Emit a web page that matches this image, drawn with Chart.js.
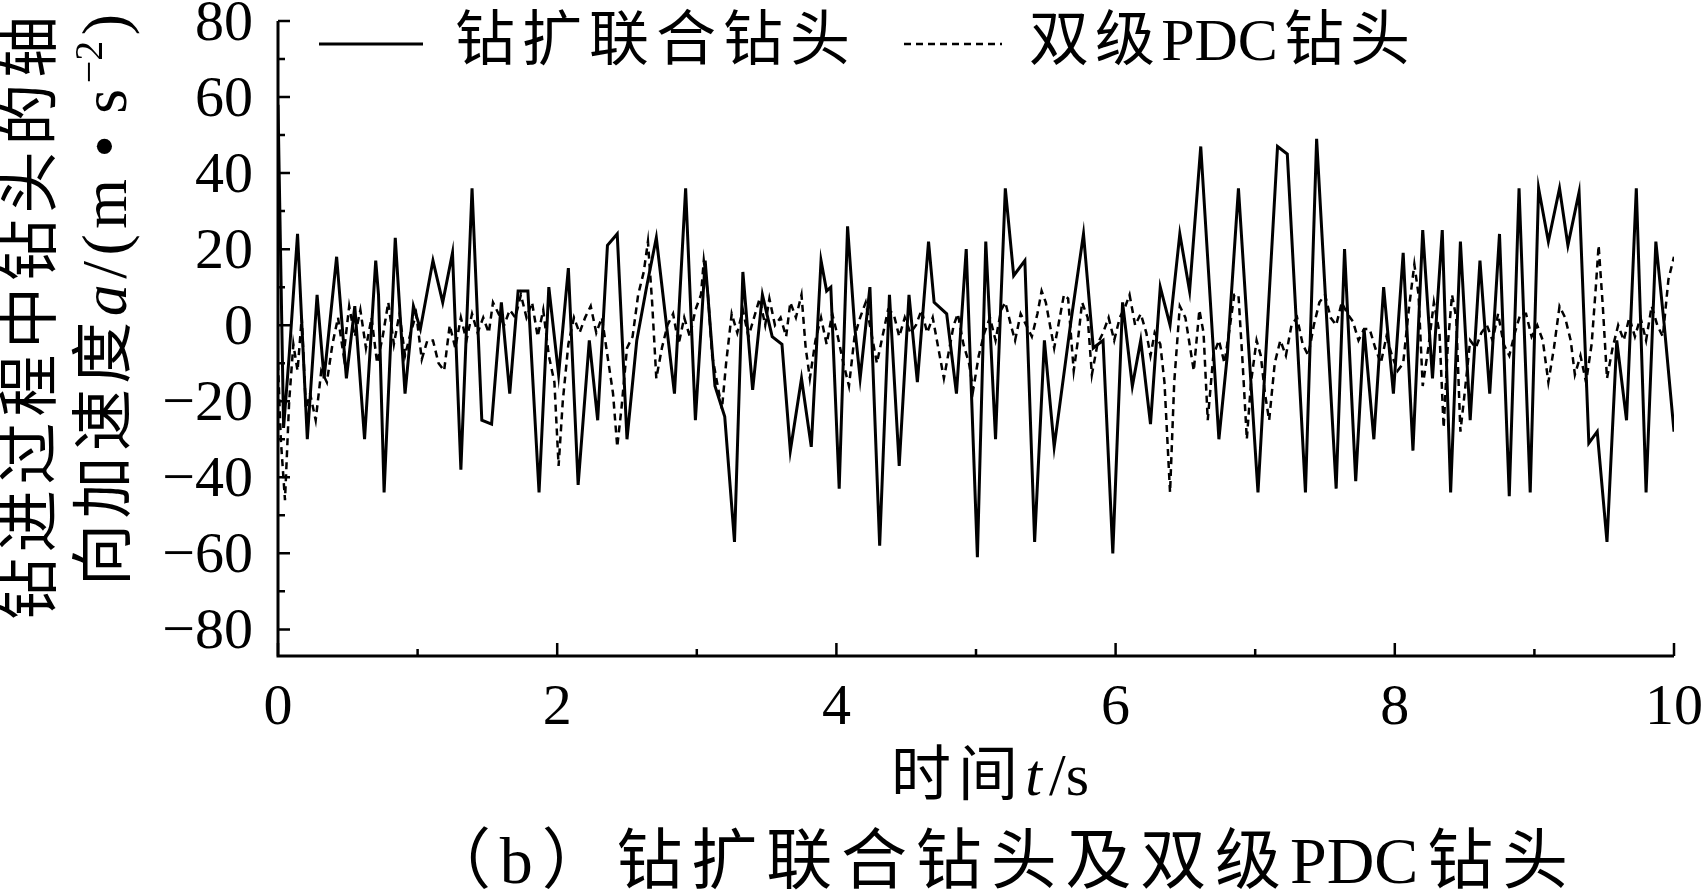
<!DOCTYPE html>
<html>
<head>
<meta charset="utf-8">
<script src="https://cdn.jsdelivr.net/npm/chart.js@4.4.1/dist/chart.umd.min.js"></script>
<style>
  html, body { margin: 0; padding: 0; background: #fff; }
  canvas { display: block; }
</style>
</head>
<body>
<canvas id="chart" width="1708" height="896"></canvas>
<script>
// series names
const seriesNames = ['钻扩联合钻头', '双级PDC钻头'];

// 钻扩联合钻头 (solid), time in s / acceleration in m/s^2
const tSolid = [
  0.00, 0.04, 0.08, 0.14, 0.21, 0.28, 0.33, 0.42, 0.49, 0.55,
  0.62, 0.70, 0.72, 0.76, 0.84, 0.91, 0.97, 1.02, 1.11, 1.18,
  1.25, 1.31, 1.39, 1.46, 1.53, 1.60, 1.66, 1.72, 1.79, 1.87,
  1.94, 2.01, 2.08, 2.15, 2.23, 2.29, 2.36, 2.43, 2.50, 2.57,
  2.64, 2.71, 2.84, 2.92, 2.99, 3.06, 3.13, 3.20, 3.27, 3.33,
  3.40, 3.47, 3.54, 3.61, 3.67, 3.75, 3.82, 3.89, 3.93, 3.96,
  4.02, 4.08, 4.13, 4.17, 4.24, 4.31, 4.38, 4.45, 4.52, 4.58,
  4.66, 4.70, 4.79, 4.86, 4.93, 5.01, 5.07, 5.14, 5.21, 5.27,
  5.35, 5.42, 5.49, 5.56, 5.68, 5.77, 5.84, 5.91, 5.98, 6.05,
  6.12, 6.18, 6.25, 6.32, 6.39, 6.46, 6.53, 6.61, 6.74, 6.80,
  6.88, 7.02, 7.16, 7.23, 7.36, 7.44, 7.58, 7.64, 7.72, 7.78,
  7.85, 7.92, 7.99, 8.06, 8.13, 8.20, 8.27, 8.34, 8.40, 8.47,
  8.54, 8.61, 8.68, 8.75, 8.82, 8.89, 8.97, 9.03, 9.10, 9.18,
  9.24, 9.32, 9.39, 9.45, 9.52, 9.59, 9.66, 9.73, 9.80, 9.87,
  9.93, 10.00
];
const aSolid = [
  58, -27, -8, 24, -30, 8, -14, 18, -14, 5,
  -30, 17, 8, -44, 23, -18, 5, -1, 17, 6,
  19, -38, 36, -25, -26, 6, -18, 9, 9, -44,
  10, -13, 15, -42, -4, -25, 21, 24, -30, -4,
  10, 23, -18, 36, -25, 17, -16, -24, -57, 14,
  -17, 8, -3, -5, -33, -14, -32, 17, 9, 10,
  -43, 26, 0, -14, 10, -58, 8, -37, 8, -15,
  22, 6, 3, -18, 20, -61, 22, -30, 36, 13,
  17, -57, -4, -32, 1, 24, -6, -4, -60, 6,
  -16, -4, -26, 10, 0, 24, 9, 47, -30, -8,
  36, -44, 47, 45, -44, 49, -43, 20, -41, -1,
  -30, 10, -18, 19, -33, 25, -14, 25, -44, 22,
  -25, 17, -18, 24, -45, 36, -44, 36, 22, 36,
  21, 35, -31, -28, -57, -4, -25, 36, -44, 22,
  0, -28
];

// 双级PDC钻头 (dashed)
const tPdc = [
  0.00, 0.02, 0.05, 0.08, 0.11, 0.14, 0.17, 0.20, 0.23, 0.27,
  0.31, 0.35, 0.39, 0.43, 0.47, 0.51, 0.55, 0.59, 0.63, 0.67,
  0.71, 0.75, 0.79, 0.83, 0.87, 0.91, 0.95, 0.99, 1.03, 1.07,
  1.11, 1.15, 1.19, 1.23, 1.27, 1.31, 1.35, 1.39, 1.43, 1.47,
  1.51, 1.54, 1.58, 1.62, 1.66, 1.70, 1.74, 1.78, 1.82, 1.86,
  1.90, 1.94, 1.98, 2.01, 2.04, 2.08, 2.12, 2.16, 2.20, 2.24,
  2.28, 2.32, 2.36, 2.40, 2.43, 2.46, 2.50, 2.54, 2.58, 2.62,
  2.65, 2.68, 2.71, 2.75, 2.79, 2.83, 2.87, 2.91, 2.95, 2.99,
  3.03, 3.05, 3.08, 3.11, 3.14, 3.18, 3.21, 3.25, 3.29, 3.33,
  3.37, 3.41, 3.45, 3.49, 3.52, 3.56, 3.60, 3.64, 3.67, 3.71,
  3.75, 3.78, 3.81, 3.85, 3.89, 3.93, 3.97, 4.01, 4.05, 4.09,
  4.13, 4.17, 4.21, 4.25, 4.29, 4.33, 4.37, 4.41, 4.45, 4.49,
  4.53, 4.57, 4.61, 4.65, 4.69, 4.73, 4.77, 4.80, 4.84, 4.87,
  4.91, 4.95, 4.98, 5.02, 5.06, 5.10, 5.14, 5.18, 5.21, 5.25,
  5.28, 5.32, 5.36, 5.40, 5.44, 5.47, 5.50, 5.53, 5.56, 5.60,
  5.63, 5.66, 5.70, 5.73, 5.76, 5.80, 5.83, 5.87, 5.91, 5.95,
  5.99, 6.03, 6.07, 6.10, 6.14, 6.18, 6.22, 6.25, 6.28, 6.32,
  6.35, 6.39, 6.42, 6.46, 6.50, 6.53, 6.56, 6.60, 6.63, 6.66,
  6.70, 6.74, 6.78, 6.82, 6.85, 6.88, 6.91, 6.94, 6.97, 7.01,
  7.04, 7.07, 7.10, 7.14, 7.18, 7.22, 7.26, 7.30, 7.34, 7.38,
  7.42, 7.46, 7.50, 7.54, 7.58, 7.62, 7.66, 7.70, 7.74, 7.78,
  7.82, 7.86, 7.90, 7.94, 7.98, 8.02, 8.06, 8.10, 8.14, 8.17,
  8.20, 8.24, 8.28, 8.32, 8.35, 8.38, 8.41, 8.44, 8.47, 8.50,
  8.54, 8.58, 8.62, 8.66, 8.70, 8.74, 8.78, 8.82, 8.86, 8.90,
  8.94, 8.98, 9.02, 9.06, 9.10, 9.14, 9.18, 9.22, 9.26, 9.29,
  9.33, 9.37, 9.41, 9.44, 9.46, 9.49, 9.52, 9.56, 9.60, 9.64,
  9.68, 9.72, 9.76, 9.80, 9.84, 9.88, 9.92, 9.96, 10.00
];
const aPdc = [
  -10, -30, -46, -20, -5, -12, 2, -22, -18, -25,
  -12, -15, -5, 2, -8, 5, -3, 4, -6, 2,
  -10, -3, 6, -5, 3, -8, -2, 3, -9, -4,
  -4, -10, -12, 0, -6, 2, -4, 3, -2, 2,
  -2, 6, 3, 0, 4, 2, 8, 2, 6, -3,
  4, -8, -15, -37, -20, -5, 2, -2, 2, 5,
  -2, 2, -8, -18, -32, -22, -6, -3, 8, 14,
  22, 6, -14, -6, 0, 3, -5, 2, -3, 4,
  8, 17, 8, -8, -14, -22, -10, 3, -2, 4,
  -3, 2, 7, 0, 7, 0, 2, -3, 6, 2,
  8, -6, -14, -4, 2, -5, 3, -3, -10, -16,
  -3, 2, 6, -2, -10, -3, 4, 3, -3, 2,
  -2, 0, 4, -2, 2, -6, -14, -8, 0, 3,
  -5, -10, -17, -8, -2, 2, -4, 4, 6, 0,
  -4, 3, 0, -3, 3, 9, 6, 0, -6, 2,
  8, 7, -12, -4, 6, 2, -13, -5, -2, 2,
  -4, 2, 5, 8, 0, 3, -2, -8, -2, -5,
  -15, -44, -15, 5, 2, -5, -12, 4, -2, -25,
  -8, -4, -10, 0, 8, 8, -10, -30, -15, -4,
  -8, -18, -25, -10, -4, -8, 0, 2, -5, -8,
  0, 6, 8, 2, 0, 6, 3, 1, -4, -1,
  -1, -6, -10, -3, -8, -12, -10, 4, 16, 8,
  -16, -6, 6, -2, -27, -5, 8, 2, -28, -18,
  -4, -6, -2, 0, -4, 3, -5, -8, -2, 3,
  3, -3, 0, -4, -15, -6, 5, 2, -4, -13,
  -8, -15, -5, 10, 21, 5, -14, -6, 0, -4,
  2, -3, 2, -4, 5, 0, -3, 12, 18
];

// axis ticks
const xMajorTicks = [0, 2, 4, 6, 8, 10];
const xMinorTicks = [1, 3, 5, 7, 9];
const yMajorTicks = [80, 60, 40, 20, 0, -20, -40, -60, -80];
const yMinorTicks = [70, 50, 30, 10, -10, -30, -50, -70];

const numFont = "58px 'Liberation Serif', 'Noto Sans CJK SC'";
const mixFont = (px) => px + "px 'Liberation Serif', 'Noto Sans CJK SC'";
const italicFont = (px) => "italic " + px + "px 'Liberation Serif'";

function fmt(v) {
    return v < 0 ? '\u2212' + Math.abs(v) : String(v);
}

// draws text parts spread out so they fill x0..x1;
// parts with tight: true get no extra space between their own letters
function drawFitted(ctx, parts, x0, x1, y) {
    const chars = [];
    parts.forEach(p => {
        const list = [...p.text];
        list.forEach((ch, i) => {
            chars.push({ ch, font: p.font, dy: p.dy || 0, gap: !p.tight || i === list.length - 1 });
        });
    });
    chars[chars.length - 1].gap = false;
    let w = 0, n = 0;
    chars.forEach(c => {
        ctx.font = c.font;
        c.w = ctx.measureText(c.ch).width;
        w += c.w;
        if (c.gap) n++;
    });
    const gap = n > 0 ? (x1 - x0 - w) / n : 0;
    let x = x0;
    ctx.textAlign = 'left';
    ctx.textBaseline = 'middle';
    chars.forEach(c => {
        ctx.font = c.font;
        ctx.fillText(c.ch, x, y + c.dy);
        x += c.w + (c.gap ? gap : 0);
    });
}

const decor = {
    id: 'decor',
    afterDraw(chart) {
        const { ctx, chartArea: a, scales: { x, y } } = chart;
        const ds = chart.data.datasets;
        ctx.save();
        ctx.strokeStyle = '#000';
        ctx.fillStyle = '#000';

        // axes
        ctx.lineWidth = 3;
        ctx.beginPath();
        ctx.moveTo(a.left, a.top);
        ctx.lineTo(a.left, a.bottom);
        ctx.lineTo(a.right, a.bottom);
        ctx.stroke();

        // inward ticks
        ctx.lineWidth = 2.5;
        ctx.beginPath();
        yMajorTicks.forEach(v => {
            const py = y.getPixelForValue(v);
            ctx.moveTo(a.left, py); ctx.lineTo(a.left + 12, py);
        });
        yMinorTicks.forEach(v => {
            const py = y.getPixelForValue(v);
            ctx.moveTo(a.left, py); ctx.lineTo(a.left + 7, py);
        });
        xMajorTicks.forEach(v => {
            const px = x.getPixelForValue(v);
            ctx.moveTo(px, a.bottom); ctx.lineTo(px, a.bottom - 13);
        });
        xMinorTicks.forEach(v => {
            const px = x.getPixelForValue(v);
            ctx.moveTo(px, a.bottom); ctx.lineTo(px, a.bottom - 7);
        });
        ctx.stroke();

        // tick labels
        ctx.font = numFont;
        ctx.textBaseline = 'alphabetic';
        ctx.textAlign = 'right';
        yMajorTicks.forEach(v => {
            ctx.fillText(fmt(v), a.left - 25, y.getPixelForValue(v) + 19);
        });
        ctx.textAlign = 'center';
        xMajorTicks.forEach(v => {
            ctx.fillText(fmt(v), x.getPixelForValue(v), a.bottom + 68);
        });

        // legend
        const ly = 44;
        ctx.lineWidth = ds[0].borderWidth;
        ctx.setLineDash([]);
        ctx.beginPath(); ctx.moveTo(319, ly); ctx.lineTo(423, ly); ctx.stroke();
        drawFitted(ctx, [{ text: ds[0].label, font: mixFont(60) }], 455, 850, ly);
        ctx.lineWidth = ds[1].borderWidth;
        ctx.setLineDash(ds[1].borderDash);
        ctx.beginPath(); ctx.moveTo(904, ly); ctx.lineTo(1002, ly); ctx.stroke();
        ctx.setLineDash([]);
        drawFitted(ctx, [
            { text: '双级', font: mixFont(60) },
            { text: 'PDC', font: mixFont(60), tight: true },
            { text: '钻头', font: mixFont(60) }
        ], 1029, 1410, ly);

        // x title
        drawFitted(ctx, [
            { text: '时间', font: mixFont(60) },
            { text: 't', font: italicFont(60), tight: true },
            { text: '/s', font: mixFont(60), tight: true }
        ], 891, 1089, 779);

        // caption
        drawFitted(ctx, [
            { text: '（b）钻扩联合钻头及双级', font: mixFont(66) },
            { text: 'PDC', font: mixFont(66), tight: true },
            { text: '钻头', font: mixFont(66) }
        ], 425, 1568, 866);

        // y title (two rotated lines)
        ctx.save();
        ctx.translate(35, 318);
        ctx.rotate(-Math.PI / 2);
        drawFitted(ctx, [{ text: '钻进过程中钻头的轴', font: mixFont(62) }], -302, 302, 0);
        ctx.restore();

        ctx.save();
        ctx.translate(109, 300);
        ctx.rotate(-Math.PI / 2);
        drawFitted(ctx, [
            { text: '向加速度', font: mixFont(62) },
            { text: 'a', font: italicFont(64) },
            { text: '/(m', font: mixFont(64) },
            { text: ' • ', font: mixFont(64), tight: true },
            { text: 's', font: mixFont(64) },
            { text: '\u22122', font: mixFont(40), dy: -18, tight: true },
            { text: ')', font: mixFont(64) }
        ], -286, 286, 0);
        ctx.restore();

        ctx.restore();
    }
};

const ctx = document.getElementById('chart').getContext('2d');
new Chart(ctx, {
    type: 'line',
    data: {
        datasets: [
            {
                label: seriesNames[0],
                data: tSolid.map((t, i) => ({ x: t, y: aSolid[i] })),
                borderColor: '#000',
                borderWidth: 3,
                pointRadius: 0,
                tension: 0,
                fill: false
            },
            {
                label: seriesNames[1],
                data: tPdc.map((t, i) => ({ x: t, y: aPdc[i] })),
                borderColor: '#000',
                borderWidth: 2.5,
                borderDash: [7, 5],
                pointRadius: 0,
                tension: 0,
                fill: false
            }
        ]
    },
    options: {
        responsive: false,
        animation: false,
        devicePixelRatio: 1,
        layout: { padding: { left: 278, right: 34, top: 21, bottom: 240 } },
        scales: {
            x: { type: 'linear', min: 0, max: 10, display: false },
            y: { type: 'linear', min: -87, max: 80, display: false }
        },
        plugins: {
            legend: { display: false },
            tooltip: { enabled: false }
        }
    },
    plugins: [decor]
});
</script>
</body>
</html>
